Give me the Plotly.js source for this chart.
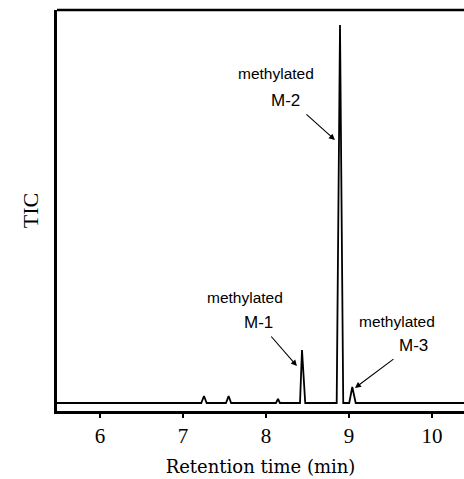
<!DOCTYPE html>
<html><head><meta charset="utf-8">
<script src="https://cdn.plot.ly/plotly-3.0.1.min.js"></script>
<style>html,body{margin:0;padding:0;background:#fff;overflow:hidden}</style>
</head><body><div id="chart" style="width:464px;height:479px"></div>
<script>
// Retention time (min) and TIC (arbitrary units, baseline = 0)
const retentionTime = [5.48, 7.22, 7.253, 7.285, 7.518, 7.55, 7.58, 8.12, 8.145, 8.168,
  8.41, 8.434, 8.473, 8.852, 8.892, 8.931, 9.003, 9.04, 9.081, 10.39];
const tic = [0, 0, 7, 0, 0, 7, 0, 0, 4, 0,
  0, 53, 0, 0, 378, 0, 0, 16, 0, 0];
const tickValues = [6, 7, 8, 9, 10];
const tickLabels = ['6', '7', '8', '9', '10'];
const peakNames = ['M-1', 'M-2', 'M-3'];

const serif = '"Liberation Serif", "Times New Roman", serif';
const wideSerif = '"DejaVu Serif", serif';
const sans = '"Liberation Sans", Arial, sans-serif';

function labelPair(name, tx1, ty1, tx2, ty2) {
  return [
    {x: tx1, y: ty1, xref: 'x', yref: 'y', text: 'methylated', showarrow: false,
     font: {family: sans, size: 15.5, color: '#000'}},
    {x: tx2, y: ty2, xref: 'x', yref: 'y', text: name, showarrow: false,
     font: {family: sans, size: 17, color: '#000'}}
  ];
}
function arrow(x, y, ax, ay) {
  return {x: x, y: y, xref: 'x', yref: 'y', text: '', showarrow: true,
    ax: ax, ay: ay, arrowhead: 2, arrowsize: 1.1, arrowwidth: 1.1, arrowcolor: '#000'};
}

const annotations = [].concat(
  labelPair(peakNames[0], 7.747, 106, 7.904, 81),
  labelPair(peakNames[1], 8.120, 330, 8.241, 303),
  labelPair(peakNames[2], 9.578, 82, 9.783, 58),
  [arrow(8.373, 37, -27, -31), arrow(8.831, 263, -30, -27), arrow(9.072, 15, 40, -30)]
);

Plotly.newPlot('chart', [{
  x: retentionTime, y: tic, type: 'scatter', mode: 'lines',
  line: {color: '#000', width: 1.8}, hoverinfo: 'skip'
}], {
  width: 464, height: 479,
  margin: {l: 57, r: 0, t: 10, b: 68},
  paper_bgcolor: '#fff', plot_bgcolor: '#fff',
  showlegend: false,
  xaxis: {
    range: [5.482, 10.386], tickvals: tickValues, ticktext: tickLabels,
    ticks: 'outside', ticklen: 4, tickwidth: 2, tickcolor: '#000',
    showline: true, linewidth: 3, linecolor: '#000', showgrid: false, zeroline: false,
    tickfont: {family: serif, size: 21, color: '#000'},
    title: {text: 'Retention time (min)', font: {family: wideSerif, size: 18, color: '#000'}, standoff: 14}
  },
  yaxis: {
    range: [-8, 393], showticklabels: false, ticks: '',
    showline: true, linewidth: 3, linecolor: '#000', showgrid: false, zeroline: false,
    title: {text: 'TIC', font: {family: serif, size: 22, color: '#000'}, standoff: 10}
  },
  shapes: [{type: 'line', xref: 'paper', yref: 'paper', x0: 0, x1: 1, y0: 1, y1: 1,
    line: {color: '#000', width: 2.5}}],
  annotations: annotations
}, {displayModeBar: false, staticPlot: true});
</script></body></html>
